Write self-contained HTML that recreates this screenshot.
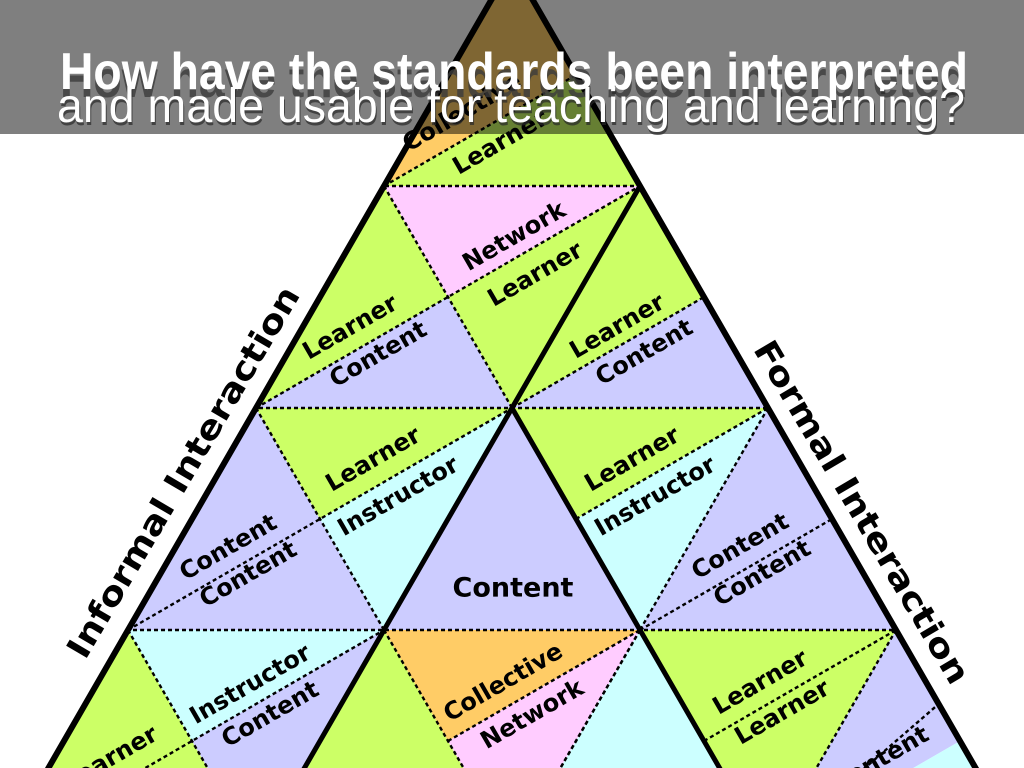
<!DOCTYPE html>
<html><head><meta charset="utf-8"><style>
html,body{margin:0;padding:0;background:#fff;width:1024px;height:768px;overflow:hidden}
svg{display:block;overflow:hidden}
.l{font-family:"DejaVu Sans","Liberation Sans",sans-serif;font-weight:bold;font-size:24px;fill:#000}
</style></head><body>
<svg width="1024" height="768" viewBox="0 0 1024 768" xmlns="http://www.w3.org/2000/svg">
<defs><clipPath id="tri"><polygon points="512,-36 0,852 1024,852"/></clipPath>
<clipPath id="vp"><rect x="0" y="0" width="1024" height="768"/></clipPath></defs>
<g clip-path="url(#vp)">
<g clip-path="url(#tri)">
<polygon points="512,-36 384,186 576,75" fill="#ffcc66"/>
<polygon points="384,186 640,186 576,75" fill="#ccff66"/>
<polygon points="384,186 256,408 448,297" fill="#ccff66"/>
<polygon points="256,408 512,408 448,297" fill="#ccccff"/>
<polygon points="384,186 640,186 448,297" fill="#ffccff"/>
<polygon points="640,186 512,408 448,297" fill="#ccff66"/>
<polygon points="640,186 512,408 704,297" fill="#ccff66"/>
<polygon points="512,408 768,408 704,297" fill="#ccccff"/>
<polygon points="640,186 768,408 704,297" fill="#ccff66"/>
<polygon points="256,408 128,630 384,630" fill="#ccccff"/>
<polygon points="256,408 512,408 320,519" fill="#ccff66"/>
<polygon points="512,408 384,630 320,519" fill="#ccffff"/>
<polygon points="512,408 384,630 640,630" fill="#ccccff"/>
<polygon points="512,408 768,408 576,519" fill="#ccff66"/>
<polygon points="768,408 640,630 576,519" fill="#ccffff"/>
<polygon points="768,408 640,630 896,630" fill="#ccccff"/>
<polygon points="128,630 0,852 256,852" fill="#ccff66"/>
<polygon points="128,630 384,630 192,741" fill="#ccffff"/>
<polygon points="384,630 256,852 192,741" fill="#ccccff"/>
<polygon points="384,630 256,852 512,852" fill="#ccff66"/>
<polygon points="384,630 640,630 448,741" fill="#ffcc66"/>
<polygon points="640,630 512,852 448,741" fill="#ffccff"/>
<polygon points="640,630 512,852 768,852" fill="#ccffff"/>
<polygon points="640,630 896,630 768,852" fill="#ccff66"/>
<polygon points="896,630 768,852 960,741" fill="#ccccff"/>
<polygon points="768,852 1024,852 960,741" fill="#ccffff"/>
<polygon points="896,630 1024,852 960,741" fill="#ccccff"/>
<g stroke="#000" stroke-width="2.4" stroke-dasharray="4 3" fill="none">
<line x1="0" y1="186" x2="1024" y2="186"/>
<line x1="0" y1="408" x2="1024" y2="408"/>
<line x1="0" y1="630" x2="1024" y2="630"/>
<line x1="384" y1="186" x2="512" y2="408"/>
<line x1="256" y1="408" x2="384" y2="630"/>
<line x1="128" y1="630" x2="256" y2="852"/>
<line x1="384" y1="630" x2="512" y2="852"/>
<line x1="768" y1="408" x2="896" y2="630"/>
<line x1="768" y1="408" x2="640" y2="630"/>
<line x1="640" y1="630" x2="512" y2="852"/>
<line x1="896" y1="630" x2="768" y2="852"/>
<line x1="512" y1="408" x2="640" y2="186"/>
<line x1="384" y1="186" x2="576" y2="75"/>
<line x1="256" y1="408" x2="640" y2="186"/>
<line x1="512" y1="408" x2="704" y2="297"/>
<line x1="128" y1="630" x2="512" y2="408"/>
<line x1="640" y1="630" x2="832" y2="519"/>
<line x1="576" y1="519" x2="768" y2="408"/>
<line x1="0" y1="852" x2="384" y2="630"/>
<line x1="512" y1="852" x2="640" y2="630"/>
<line x1="768" y1="852" x2="1024" y2="630"/>
<line x1="448" y1="741" x2="640" y2="630"/>
<line x1="704" y1="741" x2="896" y2="630"/>
</g>
</g>
<g stroke="#000" stroke-width="6" fill="none" stroke-linecap="round">
<polyline points="0,852 512,-36 1024,852"/>
<line x1="640" y1="186" x2="256" y2="852" stroke-width="5"/>
<line x1="512" y1="408" x2="768" y2="852" stroke-width="5"/>
</g>
<g class="l" text-anchor="middle" dominant-baseline="central">
<text transform="translate(462,112) rotate(-30)">Collective</text>
<text transform="translate(500,142) rotate(-30)">Learner</text>
<text transform="translate(514,236) rotate(-30)">Network</text>
<text transform="translate(535,274) rotate(-30)">Learner</text>
<text transform="translate(350,327) rotate(-30)">Learner</text>
<text transform="translate(378,354) rotate(-30)">Content</text>
<text transform="translate(617,326) rotate(-30)">Learner</text>
<text transform="translate(644,352) rotate(-30)">Content</text>
<text transform="translate(373,459) rotate(-30)">Learner</text>
<text transform="translate(398,496) rotate(-30)">Instructor</text>
<text transform="translate(228,547) rotate(-30)">Content</text>
<text transform="translate(248,574) rotate(-30)">Content</text>
<text x="513" y="588" font-size="27">Content</text>
<text transform="translate(632,459) rotate(-30)">Learner</text>
<text transform="translate(655,496) rotate(-30)">Instructor</text>
<text transform="translate(740,546) rotate(-30)">Content</text>
<text transform="translate(762,573) rotate(-30)">Content</text>
<text transform="translate(250,684) rotate(-30)">Instructor</text>
<text transform="translate(270,714) rotate(-30)">Content</text>
<text transform="translate(503,682) rotate(-30)">Collective</text>
<text transform="translate(532,714) rotate(-30)">Network</text>
<text transform="translate(760,682) rotate(-30)">Learner</text>
<text transform="translate(782,712) rotate(-30)">Learner</text>
<text transform="translate(110,758) rotate(-30)">Learner</text>
<text transform="translate(880,759) rotate(-30)">Content</text>
<text transform="translate(183,472) rotate(-59.5)" font-size="33" textLength="425" lengthAdjust="spacingAndGlyphs">Informal Interaction</text>
<text transform="translate(862,512) rotate(59.5)" font-size="33" textLength="392" lengthAdjust="spacingAndGlyphs">Formal Interaction</text>
</g>
<rect x="0" y="0" width="1024" height="134" fill="rgba(0,0,0,0.5)"/>
<g font-family="'Liberation Sans Narrow','Liberation Sans',sans-serif" text-anchor="start">
<text x="60" y="97" font-size="52" font-weight="bold" fill="rgba(60,60,60,0.8)" textLength="908" lengthAdjust="spacingAndGlyphs">How have the standards been interpreted</text>
<text x="60" y="89" font-size="52" font-weight="bold" fill="#fff" textLength="908" lengthAdjust="spacingAndGlyphs">How have the standards been interpreted</text>
<text x="58" y="125" font-size="48" fill="rgba(40,40,40,0.7)" textLength="908" lengthAdjust="spacingAndGlyphs">and made usable for teaching and learning?</text>
<text x="57" y="122" font-size="48" fill="#fff" textLength="908" lengthAdjust="spacingAndGlyphs">and made usable for teaching and learning?</text>
</g>
</g>
</svg>
</body></html>
